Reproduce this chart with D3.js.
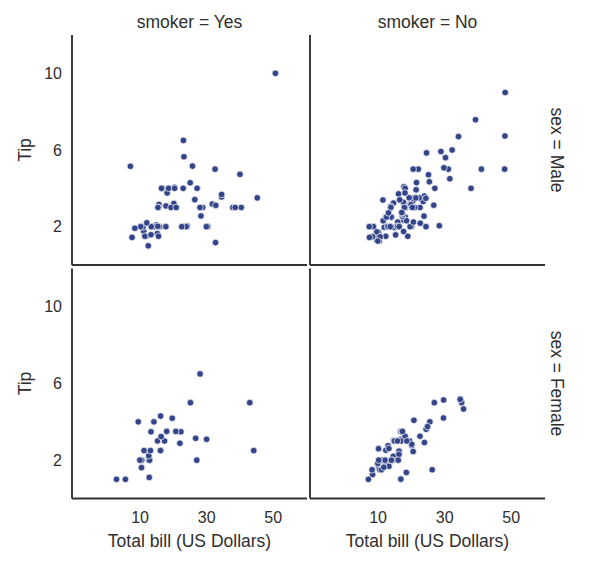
<!DOCTYPE html>
<html>
<head>
<meta charset="utf-8">
<script src="https://cdn.jsdelivr.net/npm/d3@7"></script>
<style>
  html, body { margin: 0; padding: 0; background: #fff; }
  svg { display: block; font-family: "Liberation Sans", Arial, sans-serif; }
</style>
</head>
<body>
<svg id="chart" width="603" height="570"></svg>
<script>
// ---- data (total_bill, tip) per facet ----
const colLevels = ["Yes", "No"];      // smoker
const rowLevels = ["Male", "Female"]; // sex
const xTicks = [10, 30, 50];
const yTicks = [2, 6, 10];
const xLabel = "Total bill (US Dollars)";
const yLabel = "Tip";

const maleSmoker = [
  [38.01,3.0],[11.24,1.76],[20.29,3.21],[13.81,2.0],[11.02,1.98],[18.29,3.76],[15.01,2.09],[17.92,3.08],
  [19.44,3.0],[32.68,5.0],[28.97,3.0],[40.17,4.73],[27.28,4.0],[12.03,1.5],[21.01,3.0],[15.36,1.64],
  [20.49,4.06],[25.21,4.29],[16.0,2.0],[50.81,10.0],[15.81,3.16],[7.25,5.15],[31.85,3.18],[16.82,4.0],
  [32.9,3.11],[17.89,2.0],[14.48,2.0],[34.63,3.55],[34.65,3.68],[23.33,5.65],[45.35,3.5],[23.17,6.5],
  [40.55,3.0],[30.46,2.0],[23.1,4.0],[15.69,1.5],[28.44,2.56],[15.48,2.02],[16.58,4.0],[10.34,2.0],
  [13.51,2.0],[18.71,4.0],[20.53,4.0],[26.59,3.41],[38.73,3.0],[24.27,2.03],[30.06,2.0],[25.89,5.16],
  [28.15,3.0],[11.59,1.5],[7.74,1.44],[12.16,2.2],[8.58,1.92],[13.42,1.58],[24.01,2.0],[15.69,3.0],
  [15.53,3.0],[12.6,1.0],[32.83,1.17],[22.67,2.0]
];
const maleNonSmoker = [
  [10.34,1.66],[21.01,3.5],[23.68,3.31],[25.29,4.71],[8.77,2.0],[26.88,3.12],[15.04,1.96],[14.78,3.23],
  [10.27,1.71],[15.42,1.57],[18.43,3.0],[21.58,3.92],[16.29,3.71],[20.65,3.35],[17.92,4.08],[39.42,7.58],
  [19.82,3.18],[17.81,2.34],[13.37,2.0],[12.69,2.0],[21.7,4.3],[9.55,1.45],[18.35,2.5],[17.78,3.27],
  [24.06,3.6],[16.31,2.0],[18.69,2.31],[31.27,5.0],[16.04,2.24],[17.46,2.54],[13.94,3.06],[9.68,1.32],
  [30.4,5.6],[18.29,3.0],[22.23,5.0],[32.4,6.0],[28.55,2.05],[18.04,3.0],[12.54,2.5],[9.94,1.56],
  [25.56,4.34],[19.49,3.51],[48.27,6.73],[17.59,2.64],[20.08,3.15],[20.23,2.01],[12.02,1.97],[10.51,1.25],
  [27.2,4.0],[22.76,3.0],[17.29,2.71],[16.66,3.4],[15.98,2.03],[13.03,2.0],[18.28,4.0],[24.71,5.85],
  [21.16,3.0],[22.49,3.5],[12.46,1.5],[18.24,3.76],[14.0,3.0],[38.07,4.0],[23.95,2.55],[29.93,5.07],
  [11.69,2.31],[14.26,2.5],[15.95,2.0],[8.52,1.48],[22.82,2.18],[19.08,1.5],[34.3,6.7],[41.19,5.0],
  [9.78,1.73],[7.51,2.0],[14.07,2.5],[13.13,2.0],[17.26,2.74],[24.55,2.0],[19.77,2.0],[48.17,5.0],
  [16.49,2.0],[21.5,3.5],[12.66,2.5],[13.81,2.0],[24.52,3.48],[20.76,2.24],[31.71,4.5],[20.69,5.0],
  [7.56,1.44],[48.33,9.0],[20.45,3.0],[13.28,2.72],[11.61,3.39],[10.77,1.47],[10.07,1.25],[29.03,5.92],
  [17.82,1.75]
];
const femaleSmoker = [
  [3.07,1.0],[26.86,3.14],[25.28,5.0],[5.75,1.0],[16.32,4.3],[11.35,2.5],[15.38,3.0],[44.3,2.5],
  [22.42,3.48],[14.31,4.0],[17.51,3.0],[10.59,1.61],[10.63,2.0],[9.6,4.0],[20.9,3.5],[18.15,3.5],
  [19.81,4.19],[43.11,5.0],[13.0,2.0],[12.74,2.01],[13.0,2.0],[16.4,2.5],[16.47,3.23],[12.76,2.23],
  [13.27,2.5],[28.17,6.5],[12.9,1.1],[30.14,3.09],[13.42,3.48],[16.27,2.5],[10.09,2.0],[22.12,2.88],
  [27.18,2.0]
];
const femaleNonSmoker = [
  [16.99,1.01],[24.59,3.61],[35.26,5.0],[14.83,3.02],[10.33,1.67],[16.97,3.5],[20.29,2.75],[15.77,2.23],
  [19.65,3.0],[15.06,3.0],[20.69,2.45],[16.93,3.07],[10.29,2.6],[34.81,5.2],[26.41,1.5],[16.45,2.47],
  [17.07,3.0],[14.73,2.2],[10.07,1.83],[34.83,5.17],[22.75,3.25],[20.92,4.08],[7.25,1.0],[25.71,4.0],
  [17.31,3.5],[10.65,1.5],[12.43,1.8],[24.08,2.92],[13.42,1.68],[12.48,2.52],[29.8,4.2],[14.52,2.0],
  [11.38,2.0],[20.27,2.83],[11.17,1.5],[12.26,2.0],[18.26,3.25],[8.51,1.25],[10.33,2.0],[14.15,2.0],
  [13.16,2.75],[17.47,3.5],[27.05,5.0],[16.43,2.3],[8.35,1.5],[18.64,1.36],[11.87,1.63],[29.85,5.14],
  [25.0,3.75],[13.39,2.61],[16.21,2.0],[15.98,3.0],[35.83,4.67],[18.78,3.0]
];

const facetData = {
  "Male|Yes": maleSmoker, "Male|No": maleNonSmoker,
  "Female|Yes": femaleSmoker, "Female|No": femaleNonSmoker
};

// ---- layout ----
const svg = d3.select("#chart");
const textColor = "#2e2e2e";
const spineColor = "#333333";
const colX = [[72, 307], [310, 545]];
const rowY = [[35, 265], [268.5, 498.5]];
const xDomain = [-10.3, 60.3];
const yDomain = [0, 12];
const tickFont = "16px";
const labelFont = "17.5px";

rowLevels.forEach((sex, ri) => {
  colLevels.forEach((smk, ci) => {
    const [x0, x1] = colX[ci];
    const [y0, y1] = rowY[ri];
    const x = d3.scaleLinear().domain(xDomain).range([x0, x1]);
    const y = d3.scaleLinear().domain(yDomain).range([y1, y0]);
    const g = svg.append("g");

    // points
    g.append("g").selectAll("circle")
      .data(facetData[sex + "|" + smk])
      .join("circle")
      .attr("cx", d => x(d[0]))
      .attr("cy", d => y(d[1]))
      .attr("r", 3.3)
      .attr("fill", "#334488")
      .attr("stroke", "#ffffff")
      .attr("stroke-width", 0.7);

    // y axis (left)
    const yAxis = g.append("g")
      .attr("transform", `translate(${x0},0)`)
      .call(d3.axisLeft(y).tickValues(yTicks).tickSize(0).tickPadding(10).tickFormat(d3.format("d")));
    yAxis.select(".domain").attr("stroke", spineColor).attr("stroke-width", 1.9)
      .attr("d", `M0,${y0}V${y1}`);
    yAxis.selectAll(".tick text")
      .attr("fill", textColor).attr("font-size", tickFont)
      .style("font-family", "Liberation Sans, Arial, sans-serif")
      .style("visibility", ci === 0 ? "visible" : "hidden");

    // x axis (bottom)
    const xAxis = g.append("g")
      .attr("transform", `translate(0,${y1})`)
      .call(d3.axisBottom(x).tickValues(xTicks).tickSize(0).tickPadding(13).tickFormat(d3.format("d")));
    xAxis.select(".domain").attr("stroke", spineColor).attr("stroke-width", 1.9)
      .attr("d", `M${x0},0H${x1}`);
    xAxis.selectAll(".tick text")
      .attr("fill", textColor).attr("font-size", tickFont)
      .style("font-family", "Liberation Sans, Arial, sans-serif")
      .style("visibility", ri === rowLevels.length - 1 ? "visible" : "hidden");

    // column titles
    if (ri === 0) {
      svg.append("text")
        .attr("x", (x0 + x1) / 2).attr("y", 28)
        .attr("text-anchor", "middle")
        .attr("fill", textColor).attr("font-size", labelFont)
        .text("smoker = " + smk);
    }
    // row margin titles
    if (ci === colLevels.length - 1) {
      const cy = (y0 + y1) / 2;
      svg.append("text")
        .attr("transform", `translate(551,${cy}) rotate(90)`)
        .attr("text-anchor", "middle")
        .attr("fill", textColor).attr("font-size", labelFont)
        .text("sex = " + sex);
    }
    // y label
    if (ci === 0) {
      svg.append("text")
        .attr("transform", `translate(31,${(y0 + y1) / 2}) rotate(-90)`)
        .attr("text-anchor", "middle")
        .attr("fill", textColor).attr("font-size", labelFont)
        .text(yLabel);
    }
    // x label
    if (ri === rowLevels.length - 1) {
      svg.append("text")
        .attr("x", (x0 + x1) / 2).attr("y", 547)
        .attr("text-anchor", "middle")
        .attr("fill", textColor).attr("font-size", labelFont)
        .text(xLabel);
    }
  });
});
</script>
</body>
</html>
